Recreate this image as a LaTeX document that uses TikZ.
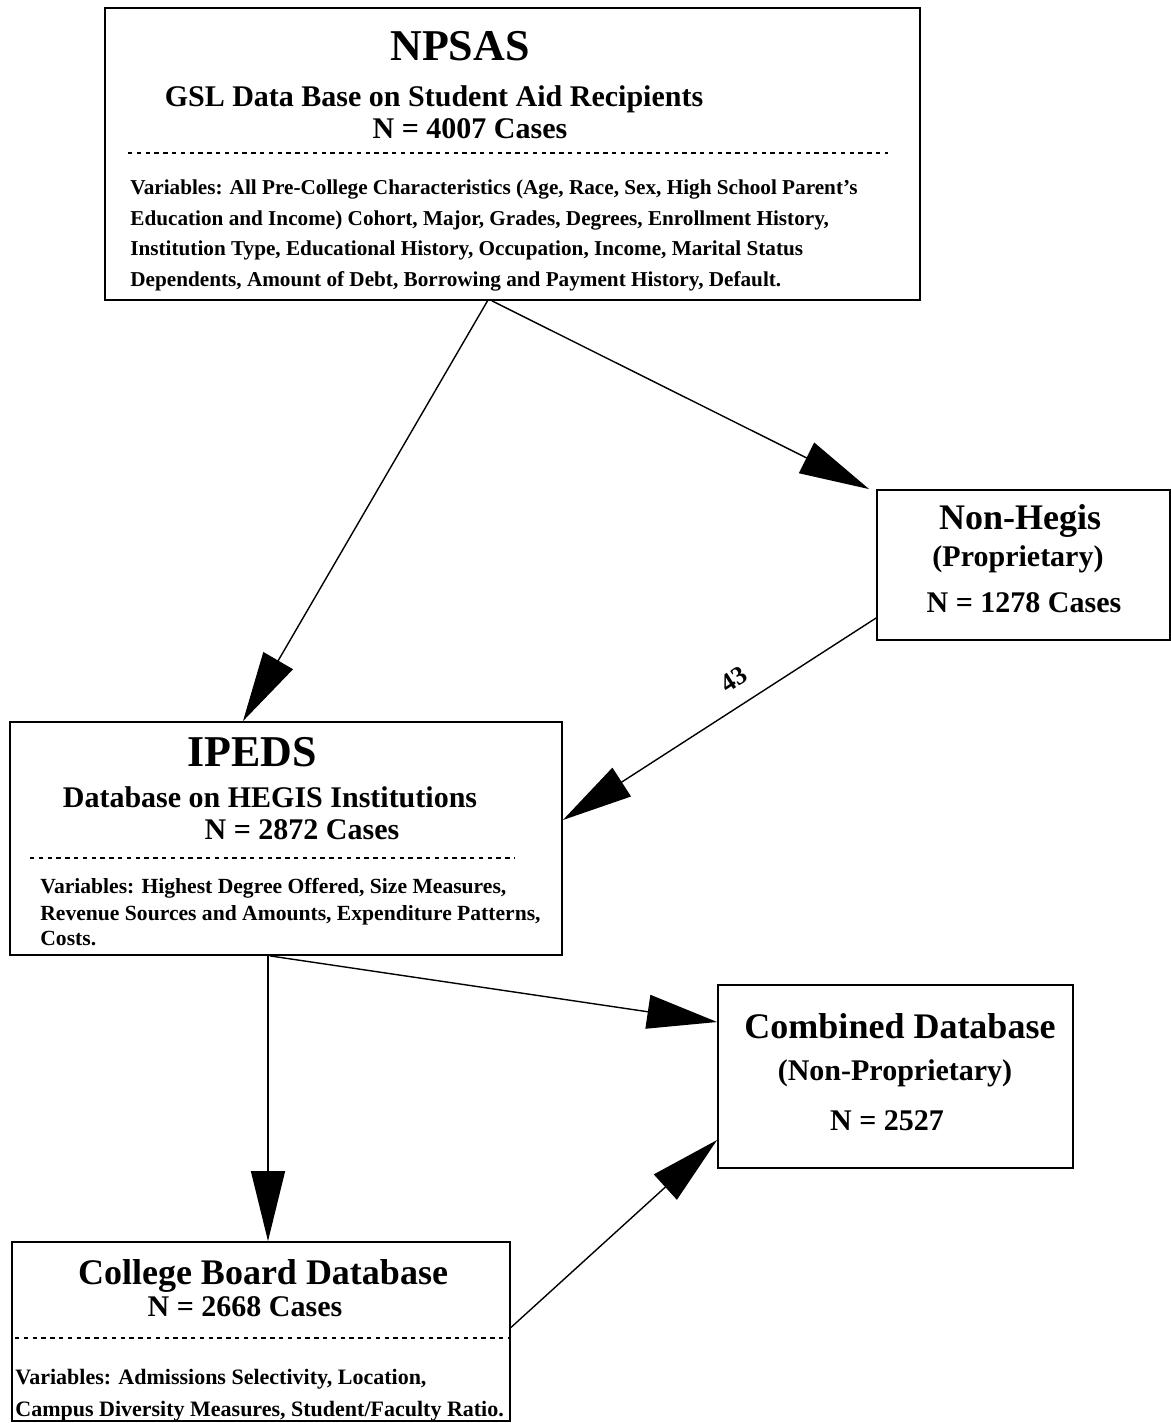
\documentclass[tikz,border=0pt]{standalone}
\usepackage{fontspec}
\setmainfont{Liberation Serif}
\usetikzlibrary{arrows.meta}
\newcommand{\fsz}[1]{\fontsize{#1}{#1}\selectfont\bfseries}
\begin{document}
\begin{tikzpicture}[x=0.5pt,y=-0.5pt,
  box/.style={draw, line width=0.9pt, rectangle, inner sep=0pt},
  txt/.style={inner sep=0pt, anchor=base},
  ltxt/.style={inner sep=0pt, anchor=base west},
  sep/.style={line width=0.6pt, dash pattern=on 2.2pt off 2.2pt},
  conn/.style={line width=0.7pt, -{Triangle[length=35pt,width=17pt]}}]
\useasboundingbox (0,0) rectangle (1171,1423);
\fill[white] (0,0) rectangle (1171,1423);

% boxes
\node[box, minimum width=407.5pt, minimum height=146pt] (npsas) at (512.5,154) {};
\node[box, minimum width=146.5pt, minimum height=75pt] (nonhegis) at (1023.5,565) {};
\node[box, minimum width=276pt, minimum height=116.5pt] (ipeds) at (286,838.5) {};
\node[box, minimum width=177.5pt, minimum height=91.5pt] (combined) at (895.5,1076.5) {};
\node[box, minimum width=249pt, minimum height=89.5pt] (cboard) at (261,1331.5) {};

% NPSAS texts
\node[txt, font=\fsz{22pt}] (t1) at (460,61) {NPSAS};
\node[txt, font=\fsz{15pt}] (t2) at (434,107) {GSL Data Base on Student Aid Recipients};
\node[txt, font=\fsz{15pt}] (t3) at (470,139) {N = 4007 Cases};
\draw[sep] (128,153) -- (888,153);
\node[ltxt, font=\fsz{10.6pt}] (t4) at (130,195) {Variables: All Pre-College Characteristics (Age, Race, Sex, High School Parent's};
\node[ltxt, font=\fsz{10.6pt}] (t5) at (130,225.5) {Education and Income) Cohort, Major, Grades, Degrees, Enrollment History,};
\node[ltxt, font=\fsz{10.6pt}] (t6) at (130,256) {Institution Type, Educational History, Occupation, Income, Marital Status};
\node[ltxt, font=\fsz{10.6pt}] (t7) at (130,286.5) {Dependents, Amount of Debt, Borrowing and Payment History, Default.};

% Non-Hegis texts
\node[txt, font=\fsz{18pt}] (h1) at (1020,529) {Non-Hegis};
\node[txt, font=\fsz{15pt}] (h2) at (1018,566) {(Proprietary)};
\node[txt, font=\fsz{15pt}] (h3) at (1024,612) {N = 1278 Cases};

% IPEDS texts
\node[txt, font=\fsz{22pt}] (i1) at (252,766) {IPEDS};
\node[txt, font=\fsz{15pt}] (i2) at (270,807) {Database on HEGIS Institutions};
\node[txt, font=\fsz{15pt}] (i3) at (302,839) {N = 2872 Cases};
\draw[sep] (30,858) -- (515,858);
\node[ltxt, font=\fsz{10.8pt}] (i4) at (40,893) {Variables: Highest Degree Offered, Size Measures,};
\node[ltxt, font=\fsz{10.8pt}] (i5) at (40,920) {Revenue Sources and Amounts, Expenditure Patterns,};
\node[ltxt, font=\fsz{10.8pt}] (i6) at (40,945) {Costs.};

% Combined texts
\node[txt, font=\fsz{18pt}] (c1) at (900,1038) {Combined Database};
\node[txt, font=\fsz{15pt}] (c2) at (895,1080) {(Non-Proprietary)};
\node[txt, font=\fsz{15pt}] (c3) at (887,1130) {N = 2527};

% College Board texts
\node[txt, font=\fsz{18pt}] (b1) at (263,1284) {College Board Database};
\node[txt, font=\fsz{15pt}] (b2) at (245,1316) {N = 2668 Cases};
\draw[sep] (15,1338) -- (510,1338);
\node[ltxt, font=\fsz{11pt}] (b3) at (15,1384) {Variables: Admissions Selectivity, Location,};
\node[ltxt, font=\fsz{11pt}] (b4) at (15,1416) {Campus Diversity Measures, Student/Faculty Ratio.};

% connectors
\draw[conn] ([xshift=-12.5pt]npsas.south) -- ([xshift=-21.5pt]ipeds.north);
\draw[conn] ([xshift=-10.25pt]npsas.south) -- ([xshift=-3.5pt]nonhegis.north west);
\draw[conn] ([yshift=-26.5pt]nonhegis.west) -- node[pos=0.41, above, sloped, font=\fsz{13pt}, inner sep=8pt] (l43) {43} ([yshift=9.25pt]ipeds.east);
\draw[conn] ([xshift=-9pt]ipeds.south) -- ([xshift=3.5pt]cboard.north);
\draw[conn] ([xshift=-8pt]ipeds.south) -- ([yshift=27.25pt]combined.west);
\draw[conn] ([yshift=2pt]cboard.east) -- ([yshift=-31.75pt]combined.west);
\end{tikzpicture}
\end{document}
